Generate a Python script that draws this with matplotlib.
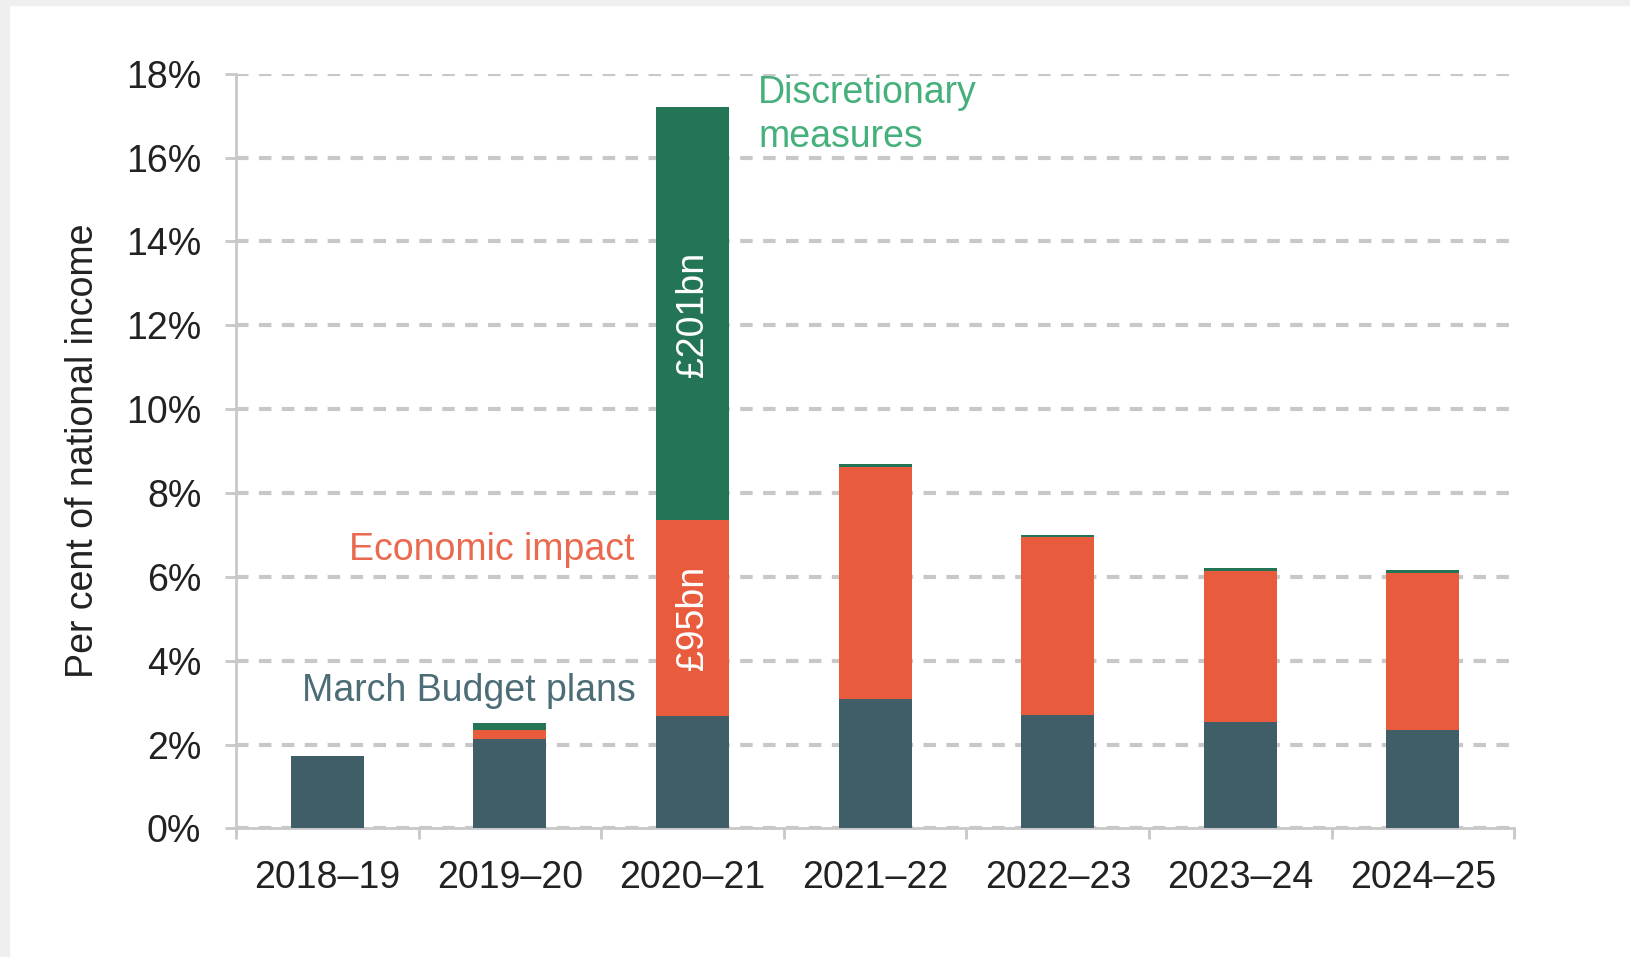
import matplotlib
matplotlib.use('Agg')
import matplotlib.pyplot as plt
from matplotlib.patches import Rectangle
from matplotlib.ticker import FuncFormatter, MultipleLocator, FixedLocator

matplotlib.rcParams['font.family'] = ['Liberation Sans', 'DejaVu Sans']
matplotlib.rcParams['font.size'] = 27

years = ['2018–19', '2019–20', '2020–21', '2021–22', '2022–23', '2023–24', '2024–25']
budget_plans = [1.74, 2.14, 2.68, 3.10, 2.70, 2.55, 2.36]
economic_impact = [0.00, 0.22, 4.68, 5.53, 4.24, 3.60, 3.73]
discretionary = [0.00, 0.16, 9.85, 0.06, 0.05, 0.07, 0.07]

c_budget = '#3F5E68'
c_impact = '#E95B3D'
c_discr = '#237556'

fig = plt.figure(figsize=(16.3, 9.57), dpi=100)
ax = fig.add_axes([0.1448, 0.1343, 0.929 - 0.1448, 0.9229 - 0.1343])

# light gray frame of the screenshot
fig.patches.append(Rectangle((0, 0), 9 / 1630, 1, transform=fig.transFigure, color='#EFEFEF', zorder=0))
fig.patches.append(Rectangle((0, 1 - 5 / 957), 1, 5 / 957, transform=fig.transFigure, color='#EFEFEF', zorder=0))

x = range(len(years))
bottom2 = [a + b for a, b in zip(budget_plans, economic_impact)]
ax.bar(x, budget_plans, width=0.4, color=c_budget, zorder=3)
ax.bar(x, economic_impact, width=0.4, bottom=budget_plans, color=c_impact, zorder=3)
ax.bar(x, discretionary, width=0.4, bottom=bottom2, color=c_discr, zorder=3)

ax.set_xlim(-0.5, 6.5)
ax.set_ylim(0, 18)
ax.yaxis.set_major_locator(MultipleLocator(2))
ax.yaxis.set_major_formatter(FuncFormatter(lambda v, p: f'{v:.0f}%'))
ax.set_xticks(list(x))
ax.set_xticklabels(years)
ax.xaxis.set_minor_locator(FixedLocator([i - 0.5 for i in range(8)]))
ax.tick_params(axis='x', which='major', length=0, pad=23, colors='#222222')
ax.tick_params(axis='x', which='minor', length=8, width=2, color='#C8C8C8')
ax.tick_params(axis='y', length=8, width=2, color='#C8C8C8', pad=17, labelcolor='#222222')

ax.grid(axis='y', linestyle=(0, (3, 2.5)), color='#C8C8C8', linewidth=3, zorder=0)
for s in ['top', 'right']:
    ax.spines[s].set_visible(False)
for s in ['left', 'bottom']:
    ax.spines[s].set_color('#C8C8C8')
    ax.spines[s].set_linewidth(2)

ax.set_ylabel('Per cent of national income', color='#222222', labelpad=18)

ax.text(1.69, 3.28, 'March Budget plans', color='#4C6D75', ha='right', va='center')
ax.text(1.68, 6.64, 'Economic impact', color='#E96A4E', ha='right', va='center')
ax.text(2.36, 17.02, 'Discretionary\nmeasures', color='#45B07C', ha='left', va='center', linespacing=1.3)
ax.text(2, 12.27, '£201bn', color='white', rotation=90, ha='center', va='center')
ax.text(2, 5.03, '£95bn', color='white', rotation=90, ha='center', va='center')

fig.savefig('out.png', dpi=100)
